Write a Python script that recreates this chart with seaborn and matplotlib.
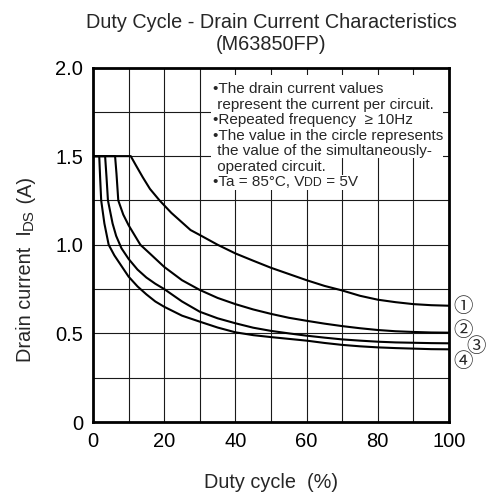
import numpy as np
import pandas as pd
import matplotlib
matplotlib.use("Agg")
import matplotlib.pyplot as plt
from matplotlib.patches import Rectangle
import seaborn as sns

# ---------------- data ----------------
duty_1 = [0, 10.6, 12, 14, 16, 18.7, 22, 27.4, 30, 35, 40, 45, 50, 55, 60, 65, 70, 75, 80, 85, 90, 95, 100]
ids_1 = [1.5, 1.5, 1.45, 1.38, 1.315, 1.25, 1.18, 1.083, 1.055, 1.0, 0.951, 0.91, 0.87, 0.835, 0.80,
         0.768, 0.742, 0.712, 0.69, 0.676, 0.665, 0.659, 0.656]

duty_2 = [0, 6.2, 6.6, 7.1, 8.5, 10, 11.2, 13.3, 16, 20, 25, 30, 35, 40, 45, 50, 55, 60, 65, 70, 75, 80, 85, 90, 95, 100]
ids_2 = [1.5, 1.5, 1.40, 1.25, 1.17, 1.11, 1.07, 1.0, 0.95, 0.875, 0.80, 0.745, 0.70, 0.665, 0.635, 0.61,
         0.588, 0.571, 0.555, 0.541, 0.529, 0.519, 0.512, 0.508, 0.505, 0.504]

duty_3 = [0, 3.4, 3.8, 4.2, 5.5, 6.5, 8, 10, 12.5, 15, 17.5, 20, 25, 30, 35, 40, 45, 50, 55, 60, 65, 70, 75, 80, 85, 90, 95, 100]
ids_3 = [1.5, 1.5, 1.38, 1.25, 1.12, 1.05, 0.98, 0.92, 0.86, 0.815, 0.78, 0.75, 0.68, 0.622, 0.585, 0.557,
         0.532, 0.514, 0.50, 0.487, 0.476, 0.466, 0.459, 0.453, 0.449, 0.447, 0.445, 0.444]

duty_4 = [0, 1.75, 2.0, 2.3, 3.2, 4.4, 6, 7.5, 10, 12.5, 15, 17.5, 20, 25, 30, 35, 40, 45, 50, 55, 60, 65, 70, 75, 80, 85, 90, 95, 100]
ids_4 = [1.5, 1.5, 1.38, 1.25, 1.12, 1.0, 0.94, 0.895, 0.82, 0.765, 0.72, 0.68, 0.65, 0.60, 0.566, 0.533,
         0.506, 0.49, 0.479, 0.469, 0.459, 0.446, 0.435, 0.427, 0.421, 0.417, 0.414, 0.411, 0.41]

circuits = ["①", "②", "③", "④"]

x_ticks = [0, 20, 40, 60, 80, 100]
x_tick_labels = ["0", "20", "40", "60", "80", "100"]
y_ticks = [0, 0.5, 1.0, 1.5, 2.0]
y_tick_labels = ["0", "0.5", "1.0", "1.5", "2.0"]

title_lines = ["Duty Cycle - Drain Current Characteristics", "(M63850FP)"]
x_label = "Duty cycle  (%)"
note_lines = [
    "•The drain current values",
    " represent the current per circuit.",
    "•Repeated frequency  ≥ 10Hz",
    "•The value in the circle represents",
    " the value of the simultaneously-",
    " operated circuit.",
]

# ---------------- frame ----------------
frames = []
for name, xs, ys in zip(circuits, [duty_1, duty_2, duty_3, duty_4], [ids_1, ids_2, ids_3, ids_4]):
    frames.append(pd.DataFrame({"duty": xs, "ids": ys, "circuit": name}))
df = pd.concat(frames, ignore_index=True)

sns.set_theme(style="white")
plt.rcParams["font.family"] = ["Liberation Sans", "DejaVu Sans"]

W, H = 488, 496
fig = plt.figure(figsize=(W / 100, H / 100), dpi=100)
ax_l, ax_r, ax_t, ax_b = 93, 449, 67.5, 422
ax = fig.add_axes([ax_l / W, 1 - ax_b / H, (ax_r - ax_l) / W, (ax_b - ax_t) / H])


def fx(px):
    return (px - ax_l) / (ax_r - ax_l)


def fy(py):
    return (ax_b - py) / (ax_b - ax_t)


def white_rect(x0, y0, x1, y1):
    ax.add_patch(Rectangle((fx(x0), fy(y1)), fx(x1) - fx(x0), fy(y0) - fy(y1),
                           transform=ax.transAxes, facecolor="white", edgecolor="none", zorder=2.8))


sns.lineplot(data=df, x="duty", y="ids", units="circuit", estimator=None, sort=False,
             color="black", linewidth=1.5, ax=ax, zorder=3)

ax.set_xlim(0, 100)
ax.set_ylim(0, 2.0)
ax.set_xticks(x_ticks)
ax.set_xticklabels(x_tick_labels)
ax.set_yticks(y_ticks)
ax.set_yticklabels(y_tick_labels)
ax.set_xticks(np.arange(10, 100, 20), minor=True)
ax.set_yticks(np.arange(0.25, 2.0, 0.5), minor=True)
ax.grid(True, which="both", color="#1a1a1a", linewidth=0.8)
ax.tick_params(which="both", length=0, labelsize=14.5, colors="black", pad=7)
ax.set_xlabel("")
ax.set_ylabel("")
for s in ax.spines.values():
    s.set_visible(True)
    s.set_color("black")
    s.set_linewidth(2.0)
    s.set_zorder(5)

# title
cx = (ax_l + ax_r) / 2 / W
fig.text(cx, 1 - 23 / H, title_lines[0], ha="center", va="center", fontsize=14.3)
fig.text(cx, 1 - 45 / H, title_lines[1], ha="center", va="center", fontsize=14.3)

# x label
fig.text(cx, 1 - 482 / H, x_label, ha="center", va="center", fontsize=14.3)

# y label with small-caps "DS"
t1 = fig.text(35.5 / W, 1 - 362 / H, "Drain current  I", rotation=90, ha="right", va="bottom", fontsize=14.3)
t2 = ax.annotate("DS", xy=(1, 1), xycoords=t1, rotation=90, ha="right", va="bottom",
                 fontsize=10.8, annotation_clip=False)
ax.annotate(" (A)", xy=(1, 1), xycoords=(t1, t2), rotation=90, ha="right", va="bottom",
            fontsize=14.3, annotation_clip=False)

# note block: white background areas behind the text (grid hidden there)
white_rect(211, 75, 443, 158)
white_rect(211, 158, 333, 175)
white_rect(211, 175, 360, 190)

note_fs = 11.0
note_x = fx(213)
base0, step = 93.3, 15.5
for i, line in enumerate(note_lines):
    yb = base0 + i * step
    ax.text(note_x, fy(yb), line, transform=ax.transAxes, ha="left",
            va="baseline", fontsize=note_fs, zorder=4)
yb = base0 + len(note_lines) * step
n1 = ax.text(note_x, fy(yb), "•Ta = 85°C, V", transform=ax.transAxes, ha="left",
             va="baseline", fontsize=note_fs, zorder=4)
n2 = ax.annotate("DD", xy=(1, 0), xycoords=n1, ha="left", va="bottom", fontsize=8.8,
                 zorder=4, annotation_clip=False)
ax.annotate(" = 5V", xy=(1, 0), xycoords=(n2, n1), ha="left", va="bottom", fontsize=note_fs,
            zorder=4, annotation_clip=False)

# circled circuit numbers at the curve ends
label_pos = [(103.9, 0.652), (103.9, 0.516), (107.6, 0.428), (103.9, 0.344)]
for name, (lx, ly) in zip(circuits, label_pos):
    ax.text(lx, ly, name, ha="center", va="center", fontsize=14, clip_on=False,
            family=["Noto Sans CJK JP", "DejaVu Sans"])

fig.savefig("out.png", dpi=100)
